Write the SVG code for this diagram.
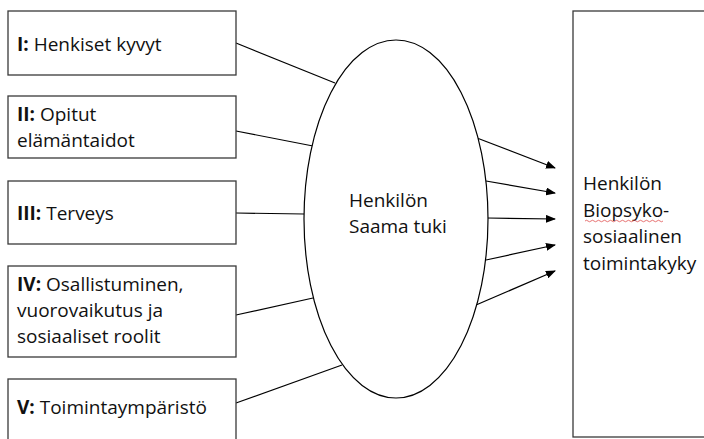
<svg xmlns="http://www.w3.org/2000/svg" width="704" height="439" viewBox="0 0 704 439">
<style>
.box{fill:#fff;stroke:#3a3a3a;stroke-width:1.3}
.t{font-family:"Open Sans","Liberation Sans",sans-serif;font-size:19px;fill:#111}
.b{font-weight:bold}
.c{stroke:#000;stroke-width:1.2;fill:none}
</style>
<defs>
<marker id="ah" markerWidth="10" markerHeight="8" refX="9" refY="4" orient="auto" markerUnits="userSpaceOnUse">
<path d="M0,0 L10,4 L0,8 Z" fill="#000"/>
</marker>
</defs>
<rect width="704" height="439" fill="#fff"/>
<g id="connectors">
<line class="c" x1="236" y1="43" x2="335" y2="83"/>
<line class="c" x1="236" y1="131" x2="313" y2="146"/>
<line class="c" x1="236" y1="213" x2="304" y2="214"/>
<line class="c" x1="236" y1="315" x2="313" y2="298"/>
<line class="c" x1="236" y1="403" x2="342" y2="365"/>
<line class="c" x1="477" y1="138" x2="555" y2="168" marker-end="url(#ah)"/>
<line class="c" x1="486" y1="181" x2="555" y2="193" marker-end="url(#ah)"/>
<line class="c" x1="487" y1="218" x2="555" y2="219" marker-end="url(#ah)"/>
<line class="c" x1="486" y1="260" x2="555" y2="245" marker-end="url(#ah)"/>
<line class="c" x1="476" y1="305" x2="555" y2="271" marker-end="url(#ah)"/>
</g>
<g id="n1">
<rect class="box" x="8" y="11" width="228" height="64"/>
<text class="t" x="17" y="51"><tspan class="b">I:</tspan> Henkiset kyvyt</text>
</g>
<g id="n2">
<rect class="box" x="8" y="96" width="228" height="62"/>
<text class="t" x="17" y="121"><tspan class="b">II:</tspan> Opitut</text>
<text class="t" x="17" y="147">elämäntaidot</text>
</g>
<g id="n3">
<rect class="box" x="8" y="181" width="228" height="63"/>
<text class="t" x="17" y="220"><tspan class="b">III:</tspan> Terveys</text>
</g>
<g id="n4">
<rect class="box" x="8" y="266" width="228" height="91"/>
<text class="t" x="17" y="291"><tspan class="b">IV:</tspan> Osallistuminen,</text>
<text class="t" x="17" y="317">vuorovaikutus ja</text>
<text class="t" x="17" y="343">sosiaaliset roolit</text>
</g>
<g id="n5">
<rect class="box" x="8" y="379" width="228" height="70"/>
<text class="t" x="17" y="414"><tspan class="b">V:</tspan> Toimintaympäristö</text>
</g>
<g id="ellipse">
<ellipse cx="396" cy="219" rx="92" ry="179" fill="#fff" stroke="#000" stroke-width="1.2"/>
<text class="t" x="349" y="207">Henkilön</text>
<text class="t" x="349" y="233">Saama tuki</text>
</g>
<g id="outcome">
<rect class="box" x="573" y="11" width="140" height="426"/>
<text class="t" x="583" y="190">Henkilön</text>
<text class="t" x="583" y="217">Biopsyko-</text>
<text class="t" x="583" y="243">sosiaalinen</text>
<text class="t" x="583" y="270">toimintakyky</text>
<path d="M585,221 q1.5,-1.5 3,0 t3,0 t3,0 t3,0 t3,0 t3,0 t3,0 t3,0 t3,0 t3,0 t3,0 t3,0 t3,0 t3,0 t3,0 t3,0 t3,0 t3,0 t3,0 t3,0 t3,0 t3,0 t3,0 t3,0 t3,0 t3,0" fill="none" stroke="#e05050" stroke-width="0.8"/>
</g>
</svg>
